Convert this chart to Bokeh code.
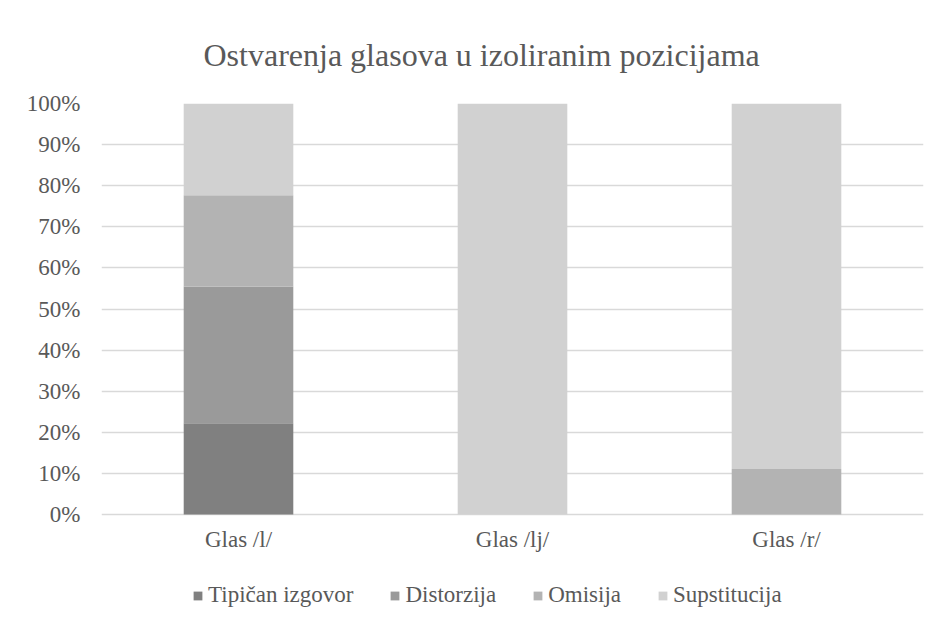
from bokeh.plotting import figure
from bokeh.models import FactorRange, Range1d, Legend, LegendItem, Title, NumeralTickFormatter, FixedTicker
from bokeh.core.properties import value
from bokeh.embed import file_html
from bokeh.resources import INLINE

categories = ["Glas /l/", "Glas /lj/", "Glas /r/"]
series_names = ["Tipičan izgovor", "Distorzija", "Omisija", "Supstitucija"]
tipican = [0.222, 0.0, 0.0]
distorzija = [0.333, 0.0, 0.0]
omisija = [0.222, 0.0, 0.111]
supstitucija = [0.223, 1.0, 0.889]
colors = ["#808080", "#9a9a9a", "#b3b3b3", "#d1d1d1"]
y_ticks = [0, 0.1, 0.2, 0.3, 0.4, 0.5, 0.6, 0.7, 0.8, 0.9, 1.0]

FONT = "Liberation Serif"
TXT = "#595959"
Y_START = -0.253      # frame extends below 0 to hold category labels and legend
LABEL_Y = -0.03

p = figure(x_range=FactorRange(*categories, range_padding=0), y_range=Range1d(Y_START, 1),
           width=940, height=620, output_backend="svg", toolbar_location=None,
           x_axis_location=None,
           min_border_left=101, min_border_right=17, min_border_top=103, min_border_bottom=2)

data = {"cat": categories, "Tipičan izgovor": tipican, "Distorzija": distorzija,
        "Omisija": omisija, "Supstitucija": supstitucija}
rs = p.vbar_stack(series_names, x="cat", width=0.4, source=data, color=colors, line_width=0)

# category labels under the bars, placed through the categorical scale
p.text(x=categories, y=[LABEL_Y] * len(categories), text=categories,
       text_font=value(FONT), text_font_size="23px", text_color=TXT,
       text_align="center", text_baseline="top")

p.outline_line_color = None
p.background_fill_color = "white"
p.border_fill_color = "white"

p.xgrid.grid_line_color = None
p.ygrid.grid_line_color = "#d9d9d9"
p.ygrid.grid_line_width = 1.3
p.ygrid.ticker = FixedTicker(ticks=y_ticks)

p.yaxis.ticker = FixedTicker(ticks=y_ticks)
p.yaxis.formatter = NumeralTickFormatter(format="0%")
p.yaxis.axis_line_color = None
p.yaxis.major_tick_line_color = None
p.yaxis.minor_tick_line_color = None
p.yaxis.major_tick_out = 0
p.yaxis.major_tick_in = 0
p.yaxis.minor_tick_out = 0
p.yaxis.major_label_standoff = 21
p.yaxis.major_label_text_font = FONT
p.yaxis.major_label_text_font_size = "23px"
p.yaxis.major_label_text_color = TXT

legend = Legend(items=[LegendItem(label=n, renderers=[r]) for n, r in zip(series_names, rs)],
                orientation="horizontal", location=(91, 10),
                glyph_width=11, glyph_height=11, label_standoff=5, spacing=36,
                padding=0, margin=0, border_line_color=None, background_fill_alpha=0,
                label_text_font=FONT, label_text_font_size="23px", label_text_color=TXT)
p.add_layout(legend, "center")

title = Title(text="Ostvarenja glasova u izoliranim pozicijama", align="left", offset=102,
              standoff=61, text_font=FONT, text_font_size="32px", text_color=TXT,
              text_font_style="normal")
p.add_layout(title, "above")

open("out.html", "w").write(file_html(p, INLINE))
